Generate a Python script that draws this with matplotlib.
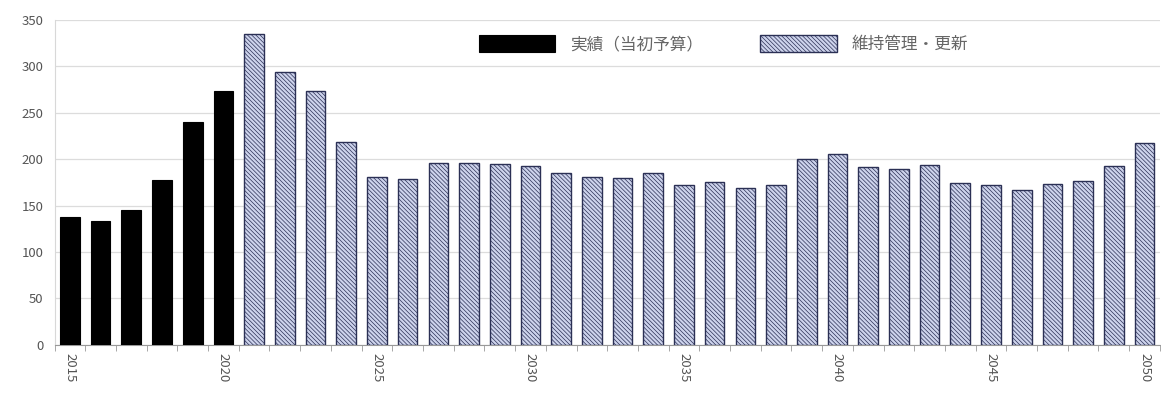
import numpy as np
import matplotlib
matplotlib.use('Agg')
import matplotlib.pyplot as plt

plt.rcParams['font.family'] = ['Noto Sans CJK JP', 'DejaVu Sans']
plt.rcParams['hatch.color'] = '#7d8294'
plt.rcParams['hatch.linewidth'] = 0.5

#%% data (yearly budget)
years_actual = [2015, 2016, 2017, 2018, 2019, 2020]
actual = [138, 133, 145, 178, 240, 273]

years_future = list(range(2021, 2051))
future = [335, 294, 273, 218, 181, 179, 196, 196, 195, 193,
          185, 181, 180, 185, 172, 175, 169, 172, 200, 206,
          191, 189, 194, 174, 172, 167, 173, 176, 193, 217]

label_actual = '実績（当初予算）'
label_future = '維持管理・更新'
tick_years = [2015, 2020, 2025, 2030, 2035, 2040, 2045, 2050]

#%% plotting
fig = plt.figure(figsize=(11.61, 3.96), dpi=100)
ax = fig.add_axes([0.047, 0.129, 0.952, 0.821])

w = 0.64
ax.bar(years_actual, actual, width=w, color='black', edgecolor='black',
       linewidth=0.8, label=label_actual, zorder=3)
ax.bar(years_future, future, width=w, color='#cdd3ec', edgecolor='#2b3055',
       linewidth=1.0, hatch='\\\\\\\\\\\\\\\\', label=label_future, zorder=3)

ax.set_ylim(0, 350)
ax.set_yticks(np.arange(0, 351, 50))
ax.set_xlim(2014.5, 2050.5)

ax.set_xticks(tick_years)
ax.set_xticklabels([str(y) for y in tick_years], rotation=-90)
ax.set_xticks(np.arange(2014.5, 2051, 1.0), minor=True)
ax.tick_params(axis='x', which='major', length=0, pad=6,
               labelsize=9.5, labelcolor='#555555')
ax.tick_params(axis='x', which='minor', length=4, color='#999999')
ax.tick_params(axis='y', length=0, pad=8, labelsize=9.5, labelcolor='#555555')

ax.grid(axis='y', color='#dcdcdc', linewidth=0.9, zorder=0)
for side in ['top', 'right']:
    ax.spines[side].set_visible(False)
ax.spines['left'].set_color('#d8d8d8')
ax.spines['bottom'].set_color('#999999')

leg = ax.legend(loc='upper left', bbox_to_anchor=(0.37, 1.0), ncol=2,
                frameon=False, fontsize=12, handlelength=4.6,
                handleheight=1.25, columnspacing=3.4, handletextpad=0.9)
for t in leg.get_texts():
    t.set_color('#666666')

fig.savefig('out.png', dpi=100)
